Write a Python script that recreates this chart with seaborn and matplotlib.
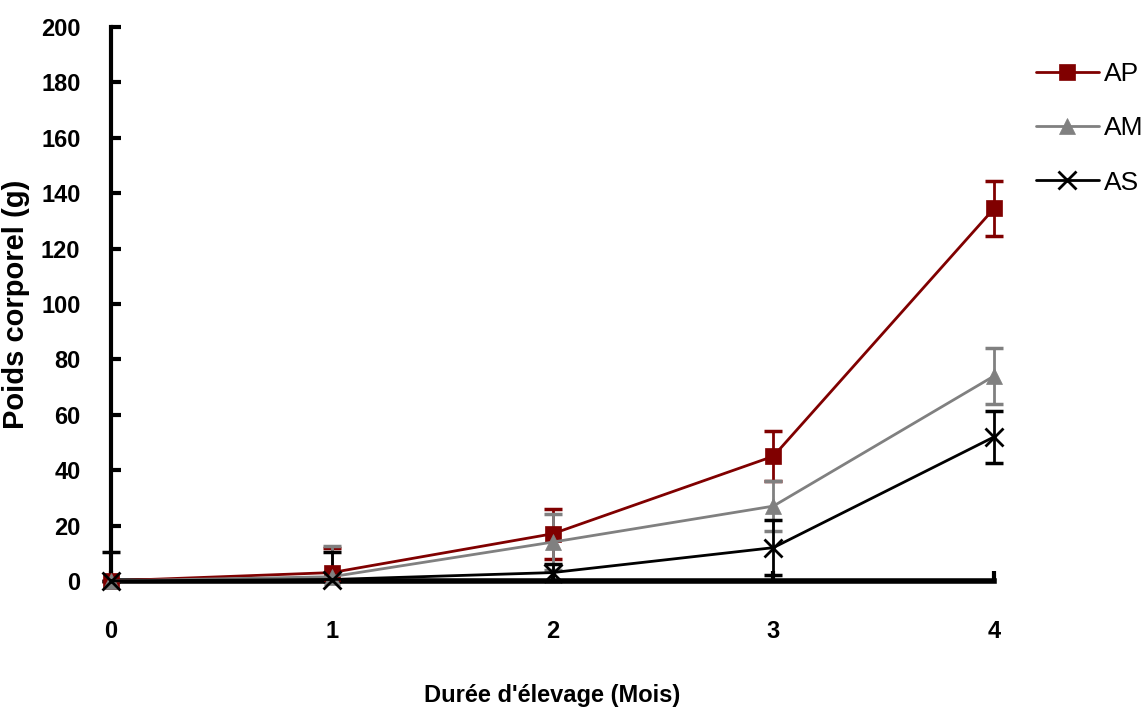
import numpy as np
import pandas as pd
import matplotlib
matplotlib.use("Agg")
import matplotlib.pyplot as plt
import seaborn as sns

months = [0, 1, 2, 3, 4]
ap_mean = [0, 3, 17, 45, 134.5]
ap_err = [0, 9, 9, 9, 10]
am_mean = [0, 1.5, 14, 27, 74]
am_err = [0, 11, 10, 9, 10]
as_mean = [0, 0.5, 3, 12, 52]
as_err = [10.5, 10, 3, 10, 9.5]

series = ["AP", "AM", "AS"]
colors = {"AP": "#800000", "AM": "#808080", "AS": "#000000"}
markers = {"AP": "s", "AM": "^", "AS": "x"}

df = pd.concat([
    pd.DataFrame({"mois": months, "poids": m, "err": e, "groupe": g})
    for g, m, e in zip(series, [ap_mean, am_mean, as_mean], [ap_err, am_err, as_err])
])

sns.set_style("white")
plt.rcParams["font.family"] = ["Liberation Sans Narrow", "Liberation Sans", "DejaVu Sans"]
plt.rcParams["text.color"] = "black"

fig, ax = plt.subplots(figsize=(11.44, 7.11), dpi=100)
fig.subplots_adjust(left=0.097, right=0.869, top=0.962, bottom=0.183)

for g in series:
    d = df[df["groupe"] == g]
    # bars stop at the x axis
    lower = np.minimum(d["err"].values, d["poids"].values)
    eb = ax.errorbar(d["mois"], d["poids"], yerr=[lower, d["err"].values], fmt="none",
                     ecolor=colors[g], elinewidth=2, capsize=6.5, capthick=2.5, zorder=2)
    for art in eb.lines[1] + eb.lines[2]:
        art.set_clip_on(False)
    sns.lineplot(data=d, x="mois", y="poids", ax=ax, color=colors[g],
                 marker=markers[g], markersize=11 if g != "AS" else 13,
                 markeredgewidth=2 if g == "AS" else 0.5,
                 markeredgecolor=colors[g], linewidth=2, label=g, zorder=3)
    ax.get_lines()[-1].set_clip_on(False)

ax.set_xlim(0, 4)
ax.set_ylim(0, 200)
ax.set_xticks(months)
ax.set_yticks(range(0, 201, 20))
ax.set_xlabel("Durée d'élevage (Mois)", fontsize=17, fontweight="bold", labelpad=30, color="black")
ax.set_ylabel("Poids corporel (g)", fontsize=21, fontweight="bold", color="black")
ax.yaxis.set_label_coords(-0.092, 0.5)
for lab in ax.get_xticklabels() + ax.get_yticklabels():
    lab.set_fontweight("bold")
    lab.set_fontsize(17)

for s in ["top", "right"]:
    ax.spines[s].set_visible(False)
ax.spines["left"].set_linewidth(3)
ax.spines["bottom"].set_linewidth(4)
ax.spines["left"].set_color("black")
ax.spines["bottom"].set_color("black")
ax.tick_params(axis="y", left=True, direction="in", length=7, width=3, pad=22, colors="black")
ax.tick_params(axis="x", bottom=True, direction="in", length=7, width=3, pad=28, colors="black")

leg = ax.legend(loc="upper left", bbox_to_anchor=(1.02, 0.98), frameon=False,
                fontsize=19, handlelength=2.4, labelspacing=1.15, handletextpad=0.2)
for t in leg.get_texts():
    t.set_color("black")

fig.savefig("out.png", dpi=100)
